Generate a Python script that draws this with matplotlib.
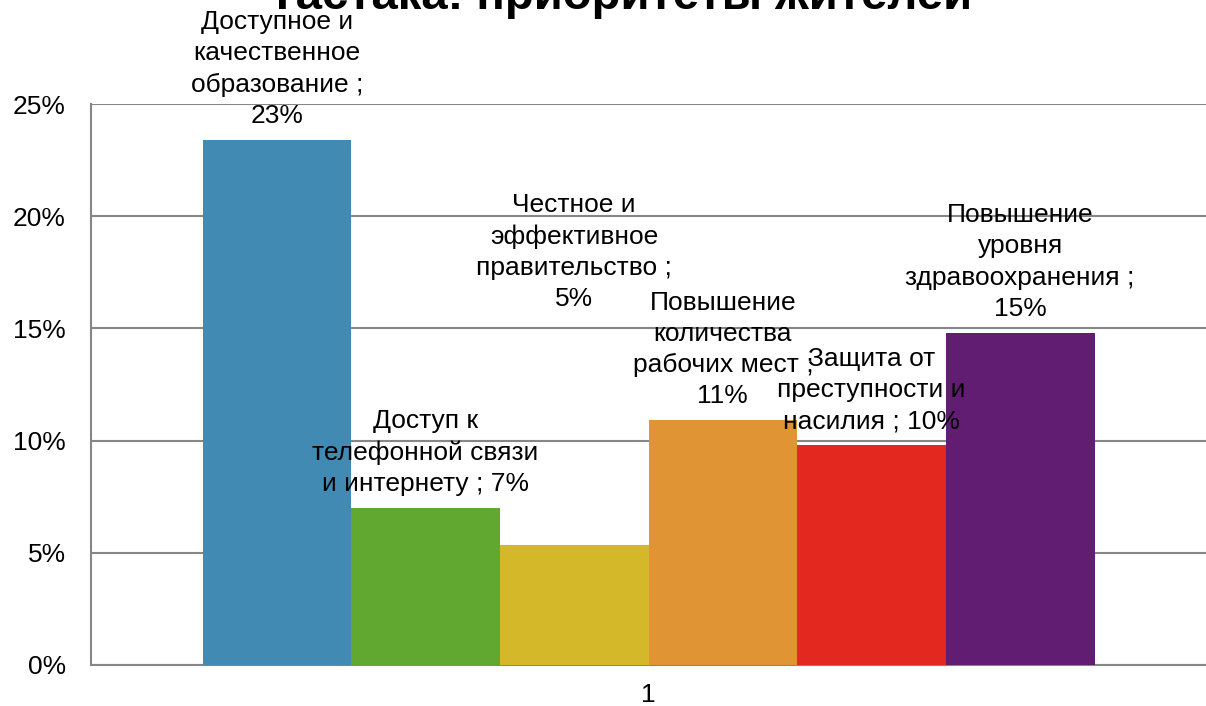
import numpy as np
import matplotlib
matplotlib.use('Agg')
import matplotlib.pyplot as plt
from matplotlib.ticker import PercentFormatter

plt.rcParams['font.family'] = ['Liberation Sans', 'DejaVu Sans']

# data
categories = ['Доступное и\nкачественное\nобразование ;', 'Доступ к\nтелефонной связи\nи интернету ;',
              'Честное и\nэффективное\nправительство ;', 'Повышение\nколичества\nрабочих мест ;',
              'Защита от\nпреступности и\nнасилия ;', 'Повышение\nуровня\nздравоохранения ;']
values = [23.4, 7.0, 5.35, 10.9, 9.8, 14.8]
colors = ['#418AB3', '#61A830', '#D5B82A', '#E09433', '#E2281F', '#611D72']
# label offset above each bar, pixels (yellow one sits high in the original)
label_offsets = [12, 12, 234, 12, 12, 12]
pct_joiner = ['\n', ' ', '\n', '\n', ' ', '\n']

fig = plt.figure(figsize=(12.06, 7.06), dpi=100)
ax = fig.add_axes([91/1206, 41/706, 1115/1206, 561/706])

n = len(values)
w = 0.8 / n
xs = -0.4 + w/2 + np.arange(n) * w
ax.bar(xs, values, width=w, color=colors, zorder=3)

for x, v, cat, off, j in zip(xs, values, categories, label_offsets, pct_joiner):
    ax.annotate(cat + j + f'{round(v):.0f}%', (x, v), xytext=(0, off), textcoords='offset pixels',
                ha='center', va='bottom', fontsize=19, linespacing=1.38, zorder=5)

ax.set_xlim(-0.5, 0.5)
ax.set_ylim(0, 25)
ax.set_yticks(np.arange(0, 26, 5))
ax.yaxis.set_major_formatter(PercentFormatter(decimals=0))
ax.set_xticks([0])
ax.set_xticklabels(['1'])
ax.tick_params(length=0, labelsize=19, pad=13)
ax.tick_params(axis='y', pad=18)
ax.grid(axis='y', color='#868686', linewidth=1.5, zorder=0)
for s in ['top', 'right']:
    ax.spines[s].set_visible(False)
for s in ['left', 'bottom']:
    ax.spines[s].set_color('#868686')
    ax.spines[s].set_linewidth(1.5)

fig.text(620/1206, 1 - 9/706, 'Тастака: приоритеты жителей', ha='center', va='baseline',
         fontsize=34, fontweight='bold')

fig.savefig('out.png', dpi=100)
